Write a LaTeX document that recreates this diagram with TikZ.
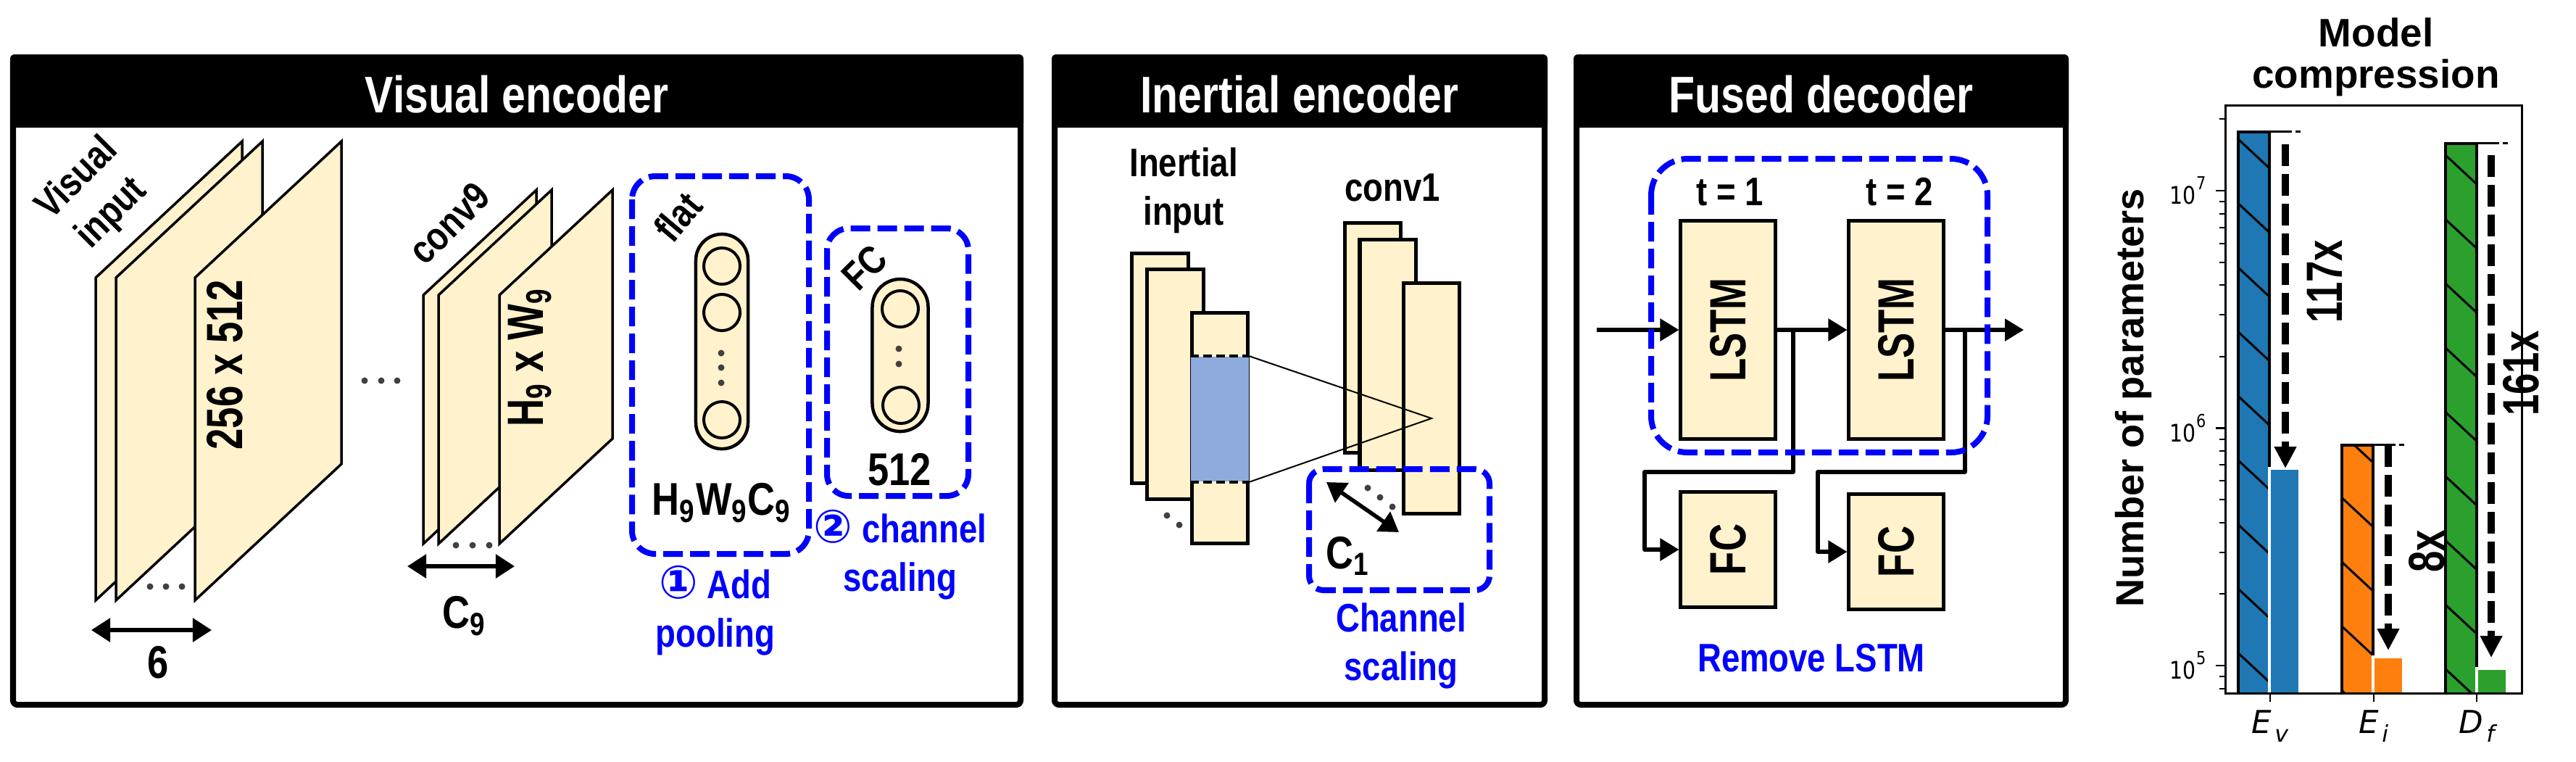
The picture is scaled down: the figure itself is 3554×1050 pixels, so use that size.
\documentclass[tikz,border=0pt]{standalone}
\usepackage{fontspec}
\usepackage{graphicx}
\usepackage{tikz}
\usetikzlibrary{arrows.meta}
\setmainfont{Liberation Sans}
\newfontfamily\narrowfont[FakeStretch=0.83]{Liberation Sans}
\newfontfamily\tallfont[FakeStretch=0.75]{Liberation Sans}
\newfontfamily\tickfont[FakeStretch=0.85]{DejaVu Sans}
\newfontfamily\circfont{DejaVu Sans}
\newcommand{\bignum}[1]{{\circfont\fontsize{18}{18}\selectfont #1}}
\definecolor{cream}{HTML}{FFF2CC}
\definecolor{inkblue}{HTML}{0000FF}
\definecolor{patchblue}{HTML}{8FAADC}
\definecolor{barblue}{HTML}{1F77B4}
\definecolor{barorange}{HTML}{FF7F0E}
\definecolor{bargreen}{HTML}{2CA02C}
\tikzset{
  headtxt/.style={font=\narrowfont\bfseries\fontsize{20.2}{24}\selectfont, text=white},
  lab/.style={font=\narrowfont\bfseries\fontsize{18}{21}\selectfont, inner sep=0pt},
  uplab/.style={font=\tallfont\bfseries\fontsize{20}{23}\selectfont, inner sep=0pt},
  smalllab/.style={font=\narrowfont\bfseries\fontsize{15.6}{19.2}\selectfont, inner sep=0pt, align=center},
  bluelab/.style={smalllab, text=inkblue},
  frame/.style={draw=black, line width=0.8mm, rounded corners=0.6mm},
  sheet/.style={draw=black, fill=cream, line width=0.35mm, line join=miter},
  block/.style={draw=black, fill=cream, line width=0.5mm, inner sep=0pt, font=\tallfont\bfseries\fontsize{20}{23}\selectfont},
  pill/.style={draw=black, fill=cream, line width=0.45mm, inner sep=0pt},
  unit/.style={circle, draw=black, line width=0.4mm, minimum size=5mm, inner sep=0pt},
  bluebox/.style={draw=inkblue, line width=0.8mm, dash pattern=on 2.7mm off 1mm},
  flow/.style={draw=black, line width=0.55mm, line join=round, -{Triangle[length=2.6mm,width=3mm]}},
  span/.style={draw=black, line width=0.55mm, {Triangle[length=2.6mm,width=3.2mm]}-{Triangle[length=2.6mm,width=3.2mm]}},
  dotmark/.style={fill=black!75},
  hatchline/.style={draw=black, line width=0.3mm},
  dropline/.style={draw=black, line width=1mm, dash pattern=on 3mm off 1.1mm, -{Triangle[length=3mm,width=2.9mm]}},
  ticktxt/.style={font=\tickfont\fontsize{9.5}{11}\selectfont, inner sep=0pt},
  axtxt/.style={font=\circfont\itshape\fontsize{12.4}{14}\selectfont, inner sep=0pt},
}
\begin{document}
\begin{tikzpicture}[x=0.01cm,y=-0.01cm]
\useasboundingbox (0,0) rectangle (3554,1050);
% panels
\foreach \pl/\pr/\pname/\ptitle in {18/1408/visual/Visual encoder,1455/2131/inertial/Inertial encoder,2175/2850/fused/Fused decoder} {
  \draw[frame] (\pl,79) rectangle (\pr,972);
  \fill[black, rounded corners=0.6mm] (\pl-4,75) rectangle (\pr+4,176);
  \node (head\pname) [headtxt] at ({(\pl+\pr)/2},130) {\ptitle};
}
% visual encoder
\foreach \sx in {132,160,269}
  \draw[sheet] (\sx,383) -- ++(202,-188) -- ++(0,445) -- ++(-202,188) -- cycle;
\foreach \sx in {584,605,689}
  \draw[sheet] (\sx,407) -- ++(156,-145) -- ++(0,343) -- ++(-156,145) -- cycle;
\foreach \dx/\dy in {207/809,229/809,251/809,503/525,526/525,548/525,629/752,652/752,675/752}
  \fill[dotmark] (\dx,\dy) circle (4.5);
\node (visualin) [smalllab, rotate=45] at (131,271) {Visual\\input};
\node (sizein) [uplab, rotate=90] at (310,503) {256 x 512};
\node (convnine) [smalllab, rotate=45] at (620,308) {conv9};
\node (sizenine) [uplab, rotate=90] at (731,493) {H\textsubscript{9} x W\textsubscript{9}};
\coordinate (inL) at (126,869);
\coordinate (inR) at (292,869);
\draw[span] (inL) -- (inR);
\node (six) [lab] at (218,914) {6};
\coordinate (nineL) at (562,781);
\coordinate (nineR) at (710,781);
\draw[span] (nineL) -- (nineR);
\node (cnine) [lab] at (641,850) {C\textsubscript{9}};
\draw[bluebox, rounded corners=3.2mm] (872,243) rectangle (1116,764);
\node (flat) [smalllab, rotate=50] at (935,299) {flat};
\node (flatpill) [pill, minimum width=7.2mm, minimum height=29.6mm, rounded corners=3.6mm] at (996,471) {};
\node (flatA) [unit] at (996,367) {};
\node (flatB) [unit] at (996,431) {};
\node (flatC) [unit] at (996,579) {};
\foreach \dy in {487,507,528}
  \fill[dotmark] (995,\dy) circle (4.5);
\node (flatsize) [lab] at (996,694) {H\textsubscript{9}W\textsubscript{9}C\textsubscript{9}};
\node (pooltxt) [bluelab] at (987,842) {\bignum{①} Add\\pooling};
\draw[bluebox, rounded corners=3mm] (1141,315) rectangle (1336,684);
\node (fctxt) [smalllab, rotate=45] at (1193,369) {FC};
\node (fcpill) [pill, minimum width=7.7mm, minimum height=21mm, rounded corners=3.85mm] at (1242,490) {};
\node (fcA) [unit] at (1242,426) {};
\node (fcB) [unit] at (1243,559) {};
\foreach \dy in {481,502}
  \fill[dotmark] (1240,\dy) circle (4.5);
\node (fcsize) [lab] at (1241,648) {512};
\node (scaletxt) [bluelab] at (1242,765) {\bignum{②} channel\\scaling};
% inertial encoder
\node (inertin) [smalllab] at (1633,263) {Inertial\\input};
\node (convone) [smalllab] at (1921,259) {conv1};
\foreach \nm/\rx/\ry in {ia/1600.5/508,ib/1621.5/530,ic/1683/590.5,ca/1894/466,cb/1914.5/489.5,cc/1975/549.5}
  \node (\nm) [block, minimum width=7.7mm, minimum height=31.7mm] at (\rx,\ry) {};
\node (patch) [fill=patchblue, inner sep=0pt, minimum width=8mm, minimum height=17.2mm] at (1683,578) {};
\draw[black, line width=0.4mm, dash pattern=on 1.2mm off 0.6mm] (patch.north west) -- (patch.north east);
\draw[black, line width=0.4mm, dash pattern=on 1.2mm off 0.6mm] (patch.south west) -- (patch.south east);
\draw[black, line width=0.15mm, dash pattern=on 1mm off 0.6mm] (patch.north west) -- (patch.south west);
\draw[black, line width=0.15mm, dash pattern=on 1mm off 0.6mm] (patch.north east) -- (patch.south east);
\coordinate (apex) at (1975,577);
\draw[black, line width=0.2mm] (patch.north east) -- (apex) -- (patch.south east);
\foreach \dx/\dy in {1610/711,1627/724,1887/673,1904/686,1921/699}
  \fill[dotmark] (\dx,\dy) circle (4.5);
\coordinate (chanA) at (1830,665);
\coordinate (chanB) at (1930,734);
\draw[span] (chanA) -- (chanB);
\node (cone) [lab] at (1860,767) {C\textsubscript{1}};
\draw[bluebox, rounded corners=2mm] (1806,647) rectangle (2055,814);
\node (chantxt) [bluelab] at (1933,891) {Channel\\scaling};
% fused decoder
\node (lstmA) [block, minimum width=13mm, minimum height=30mm] at (2384,455) {\rotatebox{90}{LSTM}};
\node (lstmB) [block, minimum width=13mm, minimum height=30mm] at (2616,455) {\rotatebox{90}{LSTM}};
\node (denseA) [block, minimum width=13mm, minimum height=15.8mm] at (2384,758) {\rotatebox{90}{FC}};
\node (denseB) [block, minimum width=13mm, minimum height=15.8mm] at (2616,761) {\rotatebox{90}{FC}};
\node (tone) [smalllab] at (2387,265) {t = 1};
\node (ttwo) [smalllab] at (2621,265) {t = 2};
\coordinate (feed) at (2203,455);
\coordinate (out) at (2792,455);
\coordinate (tapA) at (2474,455);
\coordinate (tapB) at (2711,455);
\coordinate (bendA) at (2269,651);
\coordinate (bendB) at (2508,651);
\draw[flow] (feed) -- (lstmA);
\draw[flow] (lstmA) -- (lstmB);
\draw[flow] (lstmB) -- (out);
\draw[flow] (tapA) |- (bendA) |- (denseA);
\draw[flow] (tapB) |- (bendB) |- (denseB);
\draw[bluebox, rounded corners=5mm] (2278,219) rectangle (2742,624);
\node (rmtxt) [bluelab] at (2499,908) {Remove LSTM};
% compression chart
\foreach \bx/\btop/\bhatch/\bcol/\lowtop/\arrx/\arrs/\arre in {3088/181.5/192/barblue/646/3153/199/646,3231/613.5/598/barorange/906/3295/614/897,3374/197.6/214/bargreen/922/3437/214/907} {
  \fill[\bcol] (\bx,\btop) rectangle (\bx+43,956);
  \begin{scope}
    \clip (\bx,\btop) rectangle (\bx+43,956);
    \foreach \k in {0,...,8}
      \draw[hatchline] (\bx,{\bhatch+\k*88.6}) -- ++(43,40);
  \end{scope}
  \draw[black, line width=0.4mm] (\bx,956) -- (\bx,\btop) -- (\bx+43,\btop) -- (\bx+43,956);
  \draw[black, line width=0.25mm, dash pattern=on 3.1mm off 0.5mm] (\bx+43,\btop) -- ++(43,0);
  \draw[white, line width=0.35mm, fill=\bcol] (\bx+43,956) -- (\bx+43,\lowtop) -- (\bx+85,\lowtop) -- (\bx+85,956);
  \draw[dropline] (\arrx,\arrs) -- (\arrx,\arre);
}
\draw[black, line width=0.3mm] (3070,145) rectangle (3479,956);
\foreach \dec/\pw in {263/7,590.5/6,918/5} {
  \draw[black, line width=0.25mm] (3070,\dec) -- ++(-13,0);
  \node (tick\pw) [ticktxt, anchor=east] at (3044,\dec) {10\raisebox{1.1ex}{\fontsize{7}{8}\selectfont\pw}};
}
\foreach \dec in {-64.5,263,590.5,918}
  \foreach \m in {2,...,9} {
    \pgfmathsetmacro{\ty}{\dec+327.5-327.5*log10(\m)}
    \pgfmathparse{(\ty>146)&&(\ty<955)?1:0}
    \ifnum\pgfmathresult=1
      \draw[black, line width=0.2mm] (3070,\ty) -- ++(-8,0);
    \fi
  }
\foreach \tx/\tnm/\ttxt/\tsub in {3132/ev/E/v,3275/ei/E/i,3417/df/D/f} {
  \draw[black, line width=0.25mm] (\tx,956) -- ++(0,12);
  \node (xlab\tnm) [axtxt] at (\tx,1002) {\ttxt\raisebox{-0.5ex}{\fontsize{9}{9}\selectfont\hspace{0.4mm}\tsub}};
}
\node (ylab) [font=\bfseries\fontsize{15.4}{18}\selectfont, rotate=90, inner sep=0pt] at (2943,549) {Number of parameters};
\node (charttitle) [font=\bfseries\fontsize{15.6}{16.2}\selectfont, align=center, inner sep=0pt] at (3278,79) {Model\\compression};
\node (rateA) [uplab, rotate=90] at (3207,388) {117x};
\node (rateB) [uplab, rotate=90] at (3348,760) {8x};
\node (rateC) [uplab, rotate=90] at (3478,515) {161x};
\end{tikzpicture}
\end{document}
